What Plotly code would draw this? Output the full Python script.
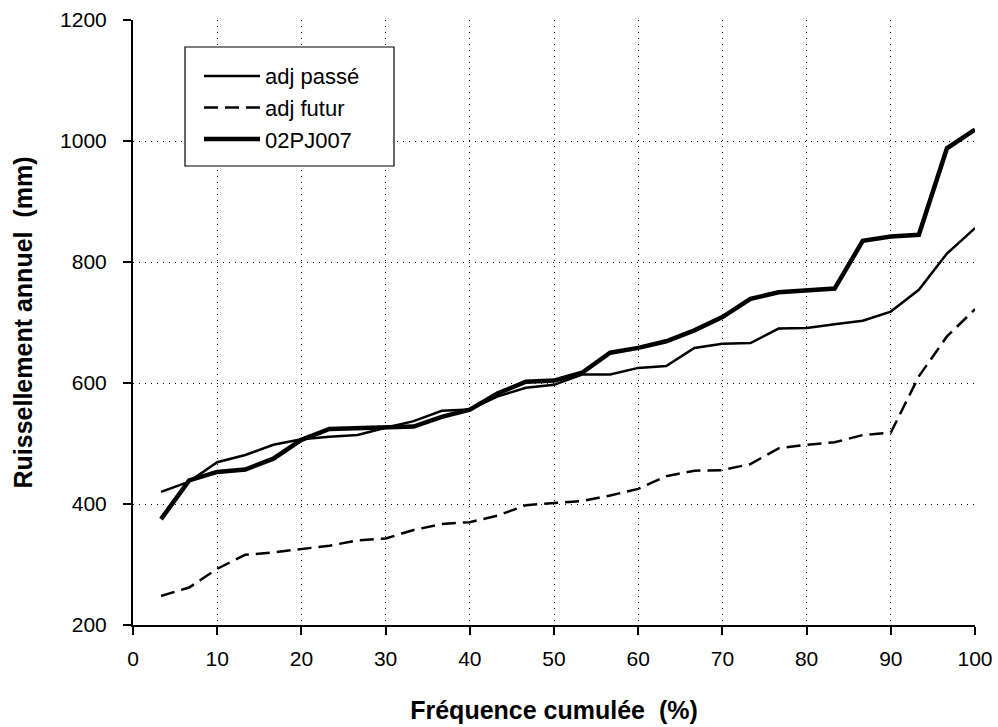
import plotly.graph_objects as go

# Cumulative frequency (%) of each ranked year
freq = [3.33, 6.67, 10.0, 13.33, 16.67, 20.0, 23.33, 26.67, 30.0, 33.33,
        36.67, 40.0, 43.33, 46.67, 50.0, 53.33, 56.67, 60.0, 63.33, 66.67,
        70.0, 73.33, 76.67, 80.0, 83.33, 86.67, 90.0, 93.33, 96.67, 100.0]

# Annual runoff (mm)
adj_passe = [420, 437, 469, 481, 498, 507, 511, 514, 526, 537,
             554, 556, 578, 592, 597, 614, 614, 625, 628, 658,
             665, 666, 690, 691, 697, 703, 718, 754, 814, 856]
adj_futur = [248, 262, 293, 316, 320, 326, 331, 340, 343, 357,
             367, 370, 381, 398, 401, 405, 414, 425, 446, 455,
             456, 466, 492, 498, 502, 514, 518, 611, 677, 722]
station_02pj007 = [375, 439, 453, 457, 475, 506, 524, 525, 526, 528,
                   544, 556, 583, 602, 604, 617, 650, 658, 669, 687,
                   709, 739, 750, 753, 756, 835, 842, 845, 988, 1019]

x_ticks = [0, 10, 20, 30, 40, 50, 60, 70, 80, 90, 100]
y_ticks = [200, 400, 600, 800, 1000, 1200]

FONT = "Liberation Sans, Arial, sans-serif"

fig = go.Figure()
fig.add_trace(go.Scatter(x=freq, y=adj_passe, mode="lines", name="adj passé",
                         line=dict(color="black", width=2.5)))
fig.add_trace(go.Scatter(x=freq, y=adj_futur, mode="lines", name="adj futur",
                         line=dict(color="black", width=2.5, dash="14px,7px")))
fig.add_trace(go.Scatter(x=freq, y=station_02pj007, mode="lines", name="02PJ007",
                         line=dict(color="black", width=4.5)))

axis_style = dict(showgrid=True, gridcolor="black", gridwidth=1, griddash="1px,5px",
                  zeroline=False, showline=True, linecolor="black", linewidth=2,
                  ticks="outside", ticklen=8, tickwidth=1.5, tickcolor="black",
                  tickfont=dict(family=FONT, size=21, color="black"))

fig.update_xaxes(range=[0, 100], tickvals=x_ticks, ticklabelstandoff=6, **axis_style,
                 title=dict(text="<b>Fréquence cumulée  (%)</b>", standoff=32,
                            font=dict(family=FONT, size=25, color="black")))
fig.update_yaxes(range=[200, 1200], tickvals=y_ticks, ticklabelstandoff=12, **axis_style,
                 title=dict(text="<b>Ruissellement annuel  (mm)</b>", standoff=20,
                            font=dict(family=FONT, size=25, color="black")))

# Framed legend box
fig.add_shape(type="rect", xref="paper", yref="paper", layer="above",
              x0=(185 - 133) / 842, x1=(394 - 133) / 842,
              y0=1 - (166 - 20) / 605, y1=1 - (47 - 20) / 605,
              fillcolor="white", line=dict(color="black", width=1.2))

fig.update_layout(
    width=998, height=727,
    margin=dict(l=133, r=23, t=20, b=102, autoexpand=False),
    paper_bgcolor="white", plot_bgcolor="white",
    font=dict(family=FONT, color="black"),
    legend=dict(x=(199 - 133) / 842, y=0.942, xanchor="left", yanchor="top",
                bgcolor="rgba(0,0,0,0)", borderwidth=0,
                font=dict(family=FONT, size=22, color="black"),
                itemwidth=56, tracegroupgap=0),
)

fig.write_html("out.html")
